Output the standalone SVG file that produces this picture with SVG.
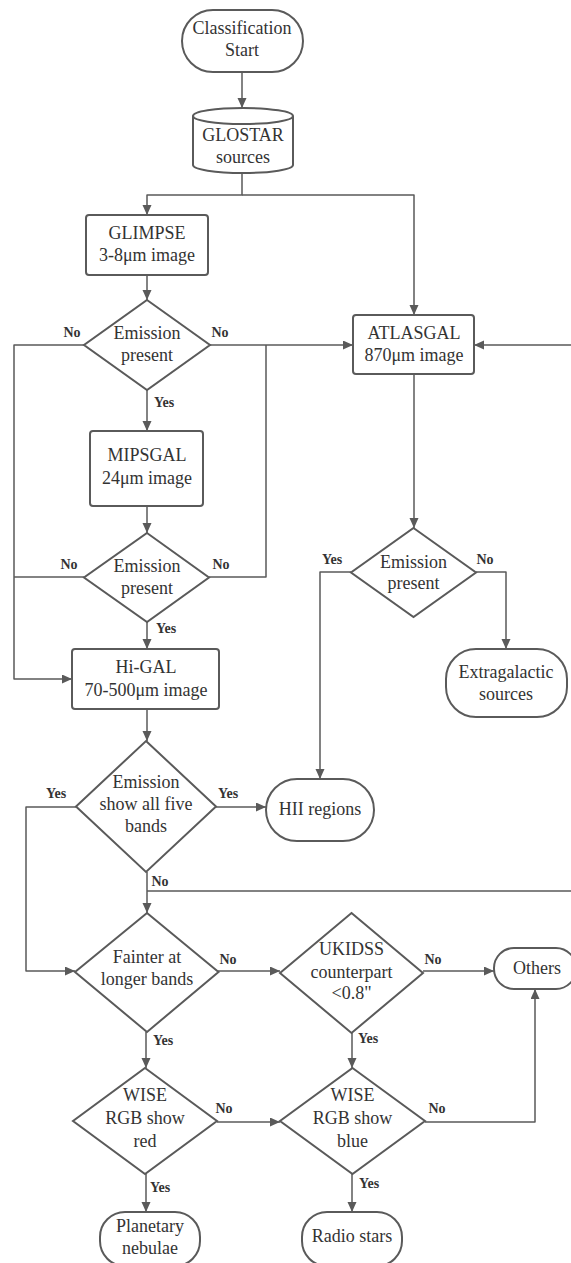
<svg xmlns="http://www.w3.org/2000/svg" width="571" height="1263" viewBox="0 0 571 1263">
<style>
.n{fill:#fff;stroke:#5a5a5a;stroke-width:2}
.t{font-size:18px;fill:#333;text-anchor:middle}
.l{font-size:14px;font-weight:bold;fill:#333;text-anchor:middle}
.c{fill:none;stroke:#5a5a5a;stroke-width:1.5;stroke-linejoin:round}
.a{marker-end:url(#ah)}
</style>
<defs>
<marker id="ah" markerUnits="userSpaceOnUse" markerWidth="11" markerHeight="10" refX="10" refY="4.5" orient="auto">
<path d="M0,0 L10,4.5 L0,9 z" fill="#5a5a5a"/>
</marker>
</defs>
<rect width="571" height="1263" fill="#fff"/>
<g id="connectors">
<path class="c a" d="M242,72 V108"/>
<path class="c a" d="M242,173 V195 H147 V215"/>
<path class="c a" d="M242,195 H414 V315"/>
<path class="c a" d="M147,275 V300"/>
<path class="c a" d="M84,345 H14 V679 H72"/>
<path class="c a" d="M210,345 H353"/>
<path class="c a" d="M147,390 V431"/>
<path class="c a" d="M147,506 V533"/>
<path class="c" d="M84,577 H14"/>
<path class="c" d="M209,577 H266 V345"/>
<path class="c a" d="M147,622 V649"/>
<path class="c a" d="M414,374 V528"/>
<path class="c a" d="M351,572 H320 V779"/>
<path class="c a" d="M476,572 H506 V649"/>
<path class="c a" d="M147,709 V741"/>
<path class="c a" d="M216,807 H266"/>
<path class="c a" d="M76,807 H26 V971 H75"/>
<path class="c a" d="M147,872 V913"/>
<path class="c a" d="M147,891 H600 V345 H474"/>
<path class="c a" d="M218,971 H280"/>
<path class="c a" d="M423,971 H494"/>
<path class="c a" d="M146,1032 V1068"/>
<path class="c a" d="M352,1033 V1068"/>
<path class="c a" d="M217,1122 H280"/>
<path class="c a" d="M425,1122 H535 V989"/>
<path class="c a" d="M146,1174 V1212"/>
<path class="c a" d="M352,1174 V1212"/>
</g>
<g id="labels" font-family="'Liberation Serif', 'Times New Roman', 'DejaVu Serif', serif">
<text class="l" x="72" y="337">No</text>
<text class="l" x="220" y="337">No</text>
<text class="l" x="164" y="407">Yes</text>
<text class="l" x="69" y="569">No</text>
<text class="l" x="221" y="569">No</text>
<text class="l" x="166" y="633">Yes</text>
<text class="l" x="332" y="564">Yes</text>
<text class="l" x="485" y="564">No</text>
<text class="l" x="56" y="798">Yes</text>
<text class="l" x="228" y="798">Yes</text>
<text class="l" x="160" y="886">No</text>
<text class="l" x="228" y="964">No</text>
<text class="l" x="433" y="964">No</text>
<text class="l" x="163" y="1045">Yes</text>
<text class="l" x="368" y="1043">Yes</text>
<text class="l" x="224" y="1113">No</text>
<text class="l" x="437" y="1113">No</text>
<text class="l" x="160" y="1192">Yes</text>
<text class="l" x="369" y="1188">Yes</text>
</g>
<g id="nodes" font-family="'Liberation Serif', 'Times New Roman', 'DejaVu Serif', serif">
<g id="start">
<rect class="n" x="182" y="10" width="121" height="62" rx="31"/>
<text class="t" x="242" y="34">Classification</text>
<text class="t" x="242" y="56">Start</text>
</g>
<g id="glostar">
<path class="n" d="M193,116 A50,8 0 0 1 293,116 V165 A50,8 0 0 1 193,165 Z"/>
<path class="n" fill="none" d="M193,116 A50,8 0 0 0 293,116"/>
<text class="t" x="243" y="141">GLOSTAR</text>
<text class="t" x="243" y="163">sources</text>
</g>
<g id="glimpse">
<rect class="n" x="86" y="215" width="122" height="60" rx="3"/>
<text class="t" x="147" y="239">GLIMPSE</text>
<text class="t" x="147" y="261">3-8μm image</text>
</g>
<g id="d1">
<polygon class="n" points="147,300 210,345 147,390 84,345"/>
<text class="t" x="147" y="339">Emission</text>
<text class="t" x="147" y="361">present</text>
</g>
<g id="atlasgal">
<rect class="n" x="353" y="315" width="121" height="59" rx="3"/>
<text class="t" x="414" y="339">ATLASGAL</text>
<text class="t" x="414" y="361">870μm image</text>
</g>
<g id="mipsgal">
<rect class="n" x="90" y="431" width="113" height="75" rx="3"/>
<text class="t" x="147" y="461">MIPSGAL</text>
<text class="t" x="147" y="484">24μm image</text>
</g>
<g id="d2">
<polygon class="n" points="147,533 209,577.5 147,622 84,577.5"/>
<text class="t" x="147" y="572">Emission</text>
<text class="t" x="147" y="594">present</text>
</g>
<g id="d3">
<polygon class="n" points="413.5,528 476,572.5 413.5,617 351,572.5"/>
<text class="t" x="413.5" y="568">Emission</text>
<text class="t" x="413.5" y="589">present</text>
</g>
<g id="higal">
<rect class="n" x="72" y="649" width="147" height="60" rx="3"/>
<text class="t" x="146" y="673">Hi-GAL</text>
<text class="t" x="146" y="696">70-500μm image</text>
</g>
<g id="extragalactic">
<rect class="n" x="446" y="649" width="121" height="68" rx="30"/>
<text class="t" x="506" y="678">Extragalactic</text>
<text class="t" x="506" y="700">sources</text>
</g>
<g id="d4">
<polygon class="n" points="146,741 216,806.5 146,872 76,806.5"/>
<text class="t" x="146" y="788">Emission</text>
<text class="t" x="146" y="810">show all five</text>
<text class="t" x="146" y="832">bands</text>
</g>
<g id="hii">
<rect class="n" x="266" y="779" width="108" height="62" rx="31"/>
<text class="t" x="320" y="815">HII regions</text>
</g>
<g id="d5">
<polygon class="n" points="147,913 218.5,972 147,1032 75,972"/>
<text class="t" x="147" y="963">Fainter at</text>
<text class="t" x="147" y="985">longer bands</text>
</g>
<g id="ukidss">
<polygon class="n" points="351.5,913 423,973 351.5,1033 280,973"/>
<text class="t" x="351.5" y="955">UKIDSS</text>
<text class="t" x="351.5" y="978">counterpart</text>
<text class="t" x="351.5" y="999">&lt;0.8"</text>
</g>
<g id="others">
<rect class="n" x="494" y="948" width="82" height="41" rx="20"/>
<text class="t" x="537" y="974">Others</text>
</g>
<g id="wise1">
<polygon class="n" points="145,1068 217,1121 145,1174 73,1121"/>
<text class="t" x="145" y="1101">WISE</text>
<text class="t" x="145" y="1124">RGB show</text>
<text class="t" x="145" y="1147">red</text>
</g>
<g id="wise2">
<polygon class="n" points="352.5,1068 425,1121 352.5,1174 280,1121"/>
<text class="t" x="352.5" y="1101">WISE</text>
<text class="t" x="352.5" y="1124">RGB show</text>
<text class="t" x="352.5" y="1147">blue</text>
</g>
<g id="planetary">
<rect class="n" x="100" y="1212" width="100" height="54" rx="25"/>
<text class="t" x="150" y="1232">Planetary</text>
<text class="t" x="150" y="1254">nebulae</text>
</g>
<g id="radio">
<rect class="n" x="302" y="1212" width="100" height="54" rx="25"/>
<text class="t" x="352" y="1242">Radio stars</text>
</g>
</g>
</svg>
